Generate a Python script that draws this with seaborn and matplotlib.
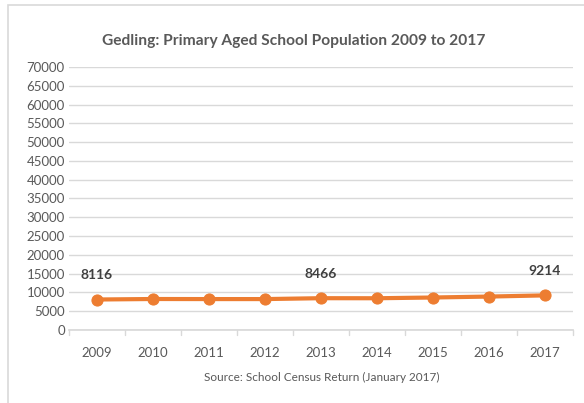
import matplotlib
matplotlib.use("Agg")
import matplotlib.pyplot as plt
import seaborn as sns
import pandas as pd
from matplotlib.patches import Rectangle

years = ["2009", "2010", "2011", "2012", "2013", "2014", "2015", "2016", "2017"]
population = [8116, 8250, 8230, 8230, 8466, 8450, 8650, 8900, 9214]
labelled = {"2009": "8116", "2013": "8466", "2017": "9214"}
y_ticks = list(range(0, 70001, 5000))

sns.set_theme(style="white")
plt.rcParams["font.family"] = ["Lato", "DejaVu Sans"]

W, H = 584, 403
fig = plt.figure(figsize=(W / 100, H / 100), dpi=100)
ax = fig.add_axes([69 / W, 1 - 330 / H, (573 - 69) / W, (330 - 67) / H])

df = pd.DataFrame({"year": years, "pop": population})
orange = "#ED7D31"
sns.lineplot(data=df, x="year", y="pop", ax=ax, color=orange, linewidth=3,
             marker="o", markersize=8, markeredgecolor=orange, sort=False)

ax.set_xlim(-0.5, len(years) - 0.5)
ax.set_ylim(0, 70000)
ax.set_yticks(y_ticks)
ax.set_yticklabels([str(t) for t in y_ticks], fontsize=9.5, color="#595959")
ax.set_xticks(range(len(years)))
ax.set_xticklabels(years, fontsize=9.5, color="#595959")
ax.tick_params(axis="x", length=0, pad=12)
ax.tick_params(axis="y", length=0, pad=3)
for b in [i + 0.5 for i in range(-1, len(years))]:
    ax.plot([b, b], [0, -1400], color="#D9D9D9", lw=1, clip_on=False)
ax.grid(axis="y", color="#D9D9D9", lw=1)
ax.set_axisbelow(True)
for s in ["top", "right", "left"]:
    ax.spines[s].set_visible(False)
ax.spines["bottom"].set_color("#D9D9D9")
ax.set_xlabel("")
ax.set_ylabel("")

for i, (y, v) in enumerate(zip(years, population)):
    if y in labelled:
        ax.annotate(labelled[y], (i, v), xytext=(0, 13), textcoords="offset points",
                    ha="center", va="bottom", fontsize=10, fontweight="bold", color="#404040")

fig.text(294 / W, 1 - 41 / H, "Gedling: Primary Aged School Population 2009 to 2017",
         ha="center", va="center", fontsize=11.2, fontweight="bold", color="#595959")
fig.text(322 / W, 1 - 377 / H, "Source: School Census Return (January 2017)",
         ha="center", va="center", fontsize=8.5, color="#595959")

fig.patches.append(Rectangle((8 / W, -0.05), 1.0, 1 - 5 / H + 0.05, transform=fig.transFigure,
                             fill=False, edgecolor="#D9D9D9", lw=1.2))

fig.savefig("out.png", dpi=100)
